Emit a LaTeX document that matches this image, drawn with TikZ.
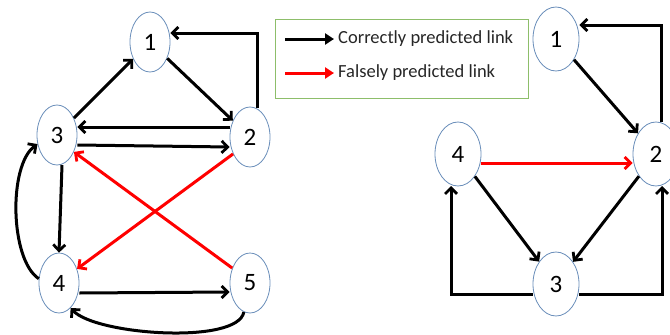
\documentclass[tikz,border=0pt]{standalone}
\usepackage{fontspec}
\setmainfont{Carlito}
\usetikzlibrary{shapes.geometric,arrows.meta}
\definecolor{nodeblue}{HTML}{6A8EBA}
\definecolor{legendgreen}{HTML}{8DBE6A}
\tikzset{
  vnode/.style={ellipse, draw=nodeblue, line width=0.8pt, fill=white, minimum width=40pt, minimum height=60pt, inner sep=0pt, font=\fontsize{25}{25}\selectfont},
  vnodeR/.style={vnode, minimum width=46pt, minimum height=64pt},
  link/.style={line width=3pt, -{Straight Barb[length=6pt,width=12pt,line width=2.8pt]}},
  blink/.style={link, black},
  rlink/.style={link, red},
  legarrow/.style={line width=3pt, -{Triangle[length=9pt,width=11pt]}},
  legtext/.style={anchor=west, inner sep=0pt, font=\fontsize{18.5}{18.5}\selectfont, text=black!85},
}
\begin{document}
\begin{tikzpicture}[x=1pt,y=-1pt]
\useasboundingbox (0,0) rectangle (670,335);
% left graph
\node[vnode] (a1) at (150,42) {1};
\node[vnode] (a2) at (250,137) {2};
\node[vnode] (a3) at (57,135) {3};
\node[vnode] (a4) at (59,283) {4};
\node[vnode] (a5) at (250,283) {5};
\draw[blink] (a3) -- (a1);
\draw[blink] (a1) -- (a2);
\coordinate (a2top) at (257,108);
\draw[blink] (a2top) |- (a1.east |- 0,33);
\draw[blink] (a2.west |- 0,127) -- (a3.east |- 0,127);
\draw[blink] (a3.east |- 0,145) -- (a2.west |- 0,147);
\coordinate (a3b) at (62,165);
\draw[blink] (a3b) -- (a4.north);
\draw[blink] (a4.168) .. controls (10,260) and (8,165) .. (a3.205);
\draw[blink] (a4.east |- 0,293) -- (a5.west |- 0,292);
\draw[blink] (a5.258) .. controls (238,345) and (95,335) .. (a4.295);
\draw[rlink] (a2.225) -- (a4.38);
\draw[rlink] (a5.140) -- (a3.315);
% legend
\node[draw=legendgreen, line width=1pt, minimum width=253pt, minimum height=79pt, anchor=north west] (leg) at (275,19) {};
\coordinate (l1s) at (285,39);
\coordinate (l1e) at (334,39);
\coordinate (l2s) at (285,73);
\coordinate (l2e) at (334,73);
\draw[legarrow, black] (l1s) -- (l1e);
\draw[legarrow, red] (l2s) -- (l2e);
\node[legtext] (t1) at (338,39) {Correctly predicted link};
\node[legtext] (t2) at (338,73) {Falsely predicted link};
% right graph
\node[vnodeR] (b1) at (556,39) {1};
\node[vnodeR] (b2) at (656,154) {2};
\node[vnodeR] (b4) at (458,154) {4};
\node[vnodeR] (b3) at (556,284) {3};
\draw[blink] (b1) -- (b2);
\coordinate (b2top) at (661,122);
\draw[blink] (b2top) |- (b1.east |- 0,25);
\draw[rlink] (b4.east |- 0,163) -- (b2.west |- 0,163);
\draw[blink] (b4) -- (b3);
\draw[blink] (b2) -- (b3);
\coordinate (b4bot) at (451,186);
\draw[blink] (b3.west |- 0,294) -| (b4bot);
\coordinate (b2bot) at (662,186);
\draw[blink] (b3.east |- 0,294) -| (b2bot);
\end{tikzpicture}
\end{document}
